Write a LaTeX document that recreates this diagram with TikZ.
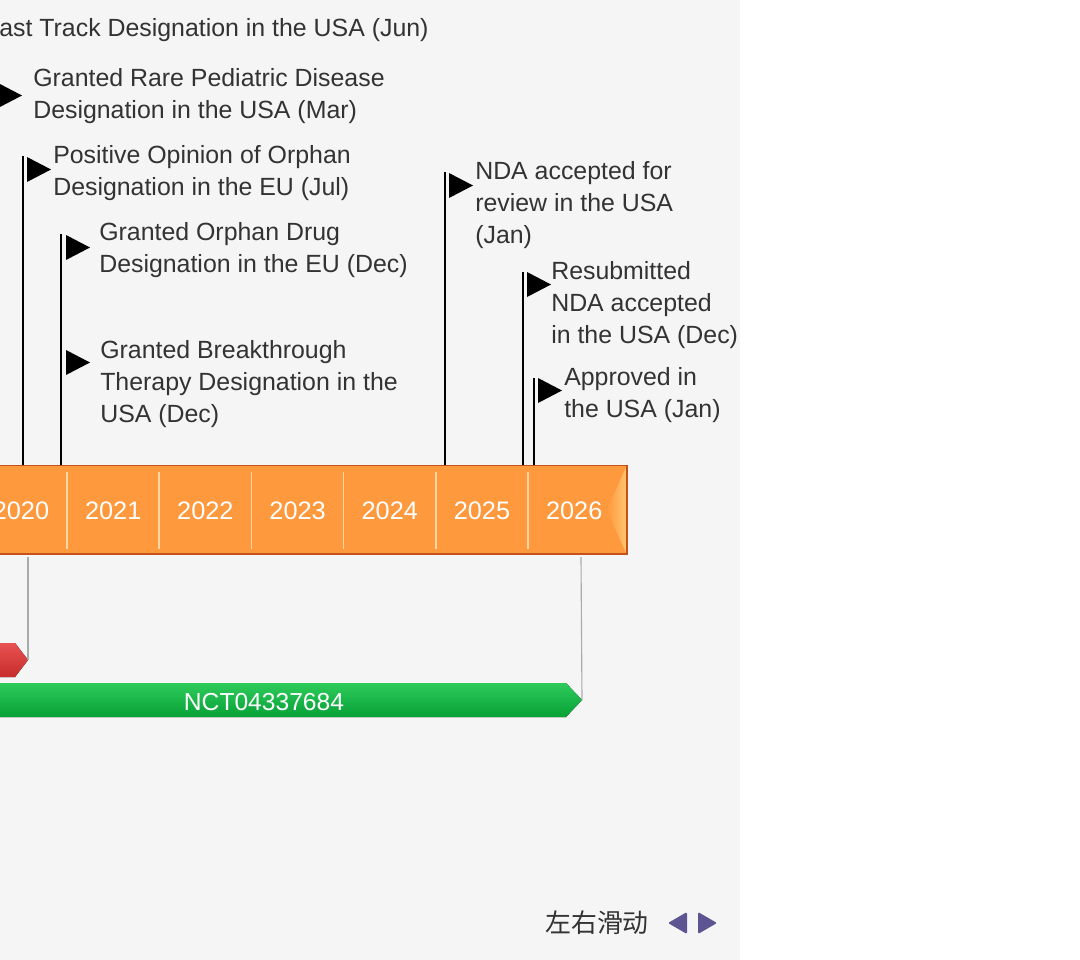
\documentclass[tikz,border=0pt]{standalone}
\usepackage{fontspec}
\setmainfont{Liberation Sans}
\newfontfamily\cjkfont{Noto Sans CJK SC}
\definecolor{bggray}{HTML}{F5F5F5}
\definecolor{txtgray}{HTML}{333333}
\definecolor{barorange}{HTML}{FF993D}
\definecolor{barlight}{HTML}{FFC46E}
\definecolor{bardark}{HTML}{C4521A}
\definecolor{barline}{HTML}{FFD6A6}
\definecolor{redtop}{HTML}{E85252}
\definecolor{trialred}{HTML}{C82C2C}
\definecolor{lightgreen}{HTML}{2ECB5B}
\definecolor{trialgreen}{HTML}{07A036}
\definecolor{guidegray}{HTML}{AAAAAA}
\definecolor{navpurple}{HTML}{5C5591}
\tikzset{
  evtext/.style={anchor=base west,inner sep=0pt,align=left,text=txtgray,
    font=\fontsize{17.7}{22.7}\selectfont},
  yeartext/.style={text=white,inner sep=0pt,font=\fontsize{18}{22}\selectfont},
  pole/.style={line width=1.5pt},
  guide/.style={guidegray,line width=0.8pt}
}
\newcommand{\flagtip}[2]{\fill (#1,#2) -- ++(24,12.5) -- ++(-24,12.5) -- cycle;}
\begin{document}
\begin{tikzpicture}[x=0.025cm,y=-0.025cm]
\useasboundingbox (0,0) rectangle (1080,960);
\fill[bggray] (0,0) rectangle (740,960);
\begin{scope}
\clip (0,0) rectangle (740,960);

% timeline bar
\fill[barorange] (-40,465) rectangle (628,555);
\shade[left color=barorange,right color=barlight] (626,467) -- (607,510) -- (626,553) -- cycle;
\draw[bardark,line width=1pt] (-40,465.5) -- (628,465.5);
\draw[bardark,line width=1.5pt] (-40,554) -- (628,554);
\draw[bardark,line width=1.5pt] (627,465) -- (627,555);
\foreach \i in {0,...,5}
  \draw[barline,line width=1pt] (67+92.2*\i,472) -- (67+92.2*\i,549);
\foreach \yr [count=\i from 0] in {2020,...,2026}
  \node[yeartext] (y\yr) at (21+92.2*\i,511) {\yr};

% flag poles
\coordinate (op-b) at (23,465);  \coordinate (op-t) at (23,156);
\coordinate (eu-b) at (61,465);  \coordinate (eu-t) at (61,234);
\coordinate (nda-b) at (445,465); \coordinate (nda-t) at (445,172);
\coordinate (rs-b) at (523,465);  \coordinate (rs-t) at (523,272);
\coordinate (ap-b) at (534,465);  \coordinate (ap-t) at (534,378);
\draw[pole] (op-b) -- (op-t);
\draw[pole] (eu-b) -- (eu-t);
\draw[pole] (nda-b) -- (nda-t);
\draw[pole] (rs-b) -- (rs-t);
\draw[pole] (ap-b) -- (ap-t);

% flags
\flagtip{-2}{83}
\flagtip{27}{157}
\flagtip{66}{235}
\flagtip{66}{350}
\flagtip{449}{173}
\flagtip{527}{272}
\flagtip{538}{378}

% events (base = last line)
\node[evtext] (fasttrack) at (-1,36) {ast Track Designation in the USA (Jun)};
\node[evtext] (rarepaed) at (33,118.5) {Granted Rare Pediatric Disease\\Designation in the USA (Mar)};
\node[evtext] (orphanop) at (53,195) {Positive Opinion of Orphan\\Designation in the EU (Jul)};
\node[evtext] (orphaneu) at (99,272) {Granted Orphan Drug\\Designation in the EU (Dec)};
\node[evtext] (breakthru) at (100,422) {Granted Breakthrough\\Therapy Designation in the\\USA (Dec)};
\node[evtext] (ndaacc) at (475,243.5) {NDA accepted for\\review in the USA\\(Jan)};
\node[evtext] (ndaresub) at (551,343.5) {Resubmitted\\NDA accepted\\in the USA (Dec)};
\node[evtext] (approval) at (564,417.5) {Approved in\\the USA (Jan)};

% trials
\coordinate (redend) at (28,660);
\coordinate (greenend) at (582,700);
\coordinate (redguide) at (28,557);
\coordinate (greenguide) at (581,557);
\fill[top color=redtop,bottom color=trialred] (-40,643) -- (15,643) -- (redend) -- (15,677) -- (-40,677) -- cycle;
\fill[top color=lightgreen,bottom color=trialgreen] (-40,683) -- (566,683) -- (greenend) -- (566,717) -- (-40,717) -- cycle;
\draw[guide] (redguide) -- (redend);
\draw[guide] (greenguide) -- (greenend);
\node[text=white,font=\fontsize{17.5}{22}\selectfont] (nct) at (264,702) {NCT04337684};

% scroll hint
\node[text=txtgray,font=\cjkfont\fontsize{18.4}{22}\selectfont] (slide) at (597,923) {左右滑动};
\fill[navpurple,rounded corners=1pt] (687,912) -- (668,923) -- (687,934) -- cycle;
\fill[navpurple,rounded corners=1pt] (698,912) -- (717,923) -- (698,934) -- cycle;
\end{scope}
\end{tikzpicture}
\end{document}
